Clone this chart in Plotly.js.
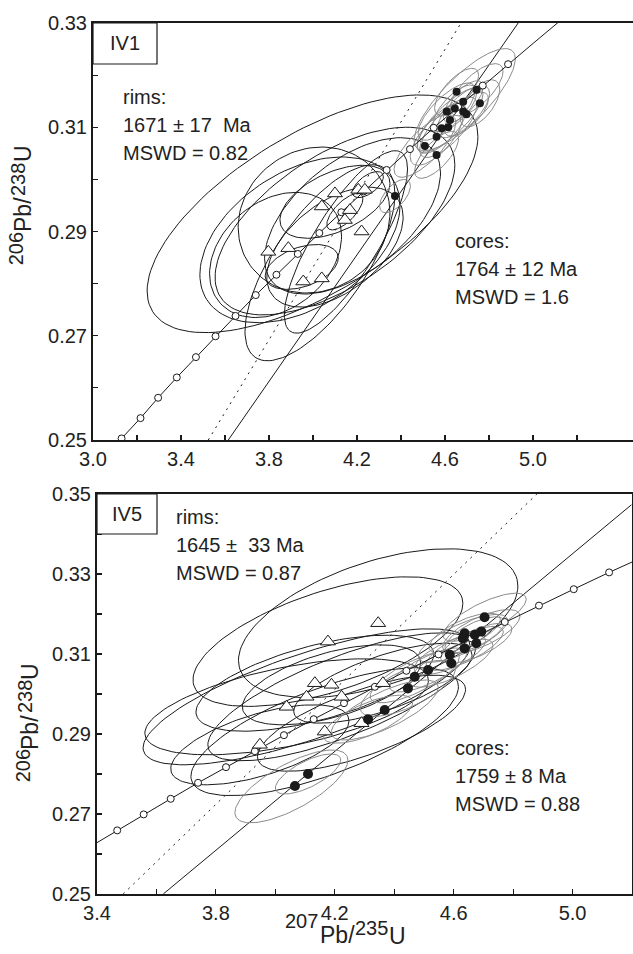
<!DOCTYPE html>
<html><head><meta charset="utf-8">
<script src="https://cdn.plot.ly/plotly-3.0.1.min.js"></script>
<style>html,body{margin:0;padding:0;background:#fff}</style>
</head><body><div id="chart" style="width:633px;height:954px"></div>
<script>
// ---------- Concordia curve (marker points, 20 Ma steps 1420-1860) ----------
const concX = [3.049,3.130,3.216,3.296,3.381,3.468,3.557,3.648,3.740,3.834,3.931,4.029,4.129,4.231,4.335,4.441,4.549,4.660,4.772,4.887,5.004,5.123,5.245];
const concY = [0.2464,0.2503,0.2542,0.2581,0.2620,0.2659,0.2699,0.2738,0.2778,0.2817,0.2857,0.2897,0.2937,0.2977,0.3018,0.3058,0.3099,0.3139,0.3180,0.3221,0.3262,0.3304,0.3345];
const iv1MarkerFirst = 1, iv1MarkerLast = 19;   // markers shown in IV1 panel

// ---------- IV1 ----------
const iv1SolidX = [3.615, 4.933], iv1SolidY = [0.25, 0.33];
const iv1DotX = [3.524, 4.673],  iv1DotY = [0.25, 0.33];
const iv1RimX = [3.797,3.888,3.956,4.040,4.040,4.100,4.145,4.168,4.221,4.206,4.236];
const iv1RimY = [0.2861,0.2868,0.2804,0.2810,0.2948,0.2973,0.2922,0.2941,0.2900,0.2980,0.2980];
const iv1CoreX = [4.653,4.744,4.683,4.759,4.608,4.645,4.683,4.698,4.623,4.585,4.615,4.562,4.509,4.562,4.373];
const iv1CoreY = [0.3168,0.3172,0.3149,0.3146,0.3130,0.3136,0.3130,0.3125,0.3114,0.3098,0.3100,0.3082,0.3064,0.3047,0.2968];
// rim error ellipses: centre, half-width x, half-height y, correlation
const iv1RimEllCx  = [3.998,3.941,4.032,4.005,3.949,4.145,4.250,4.100,4.100,4.180,3.830,4.100,4.150];
const iv1RimEllCy  = [0.2934,0.2884,0.2840,0.2922,0.2832,0.2938,0.2990,0.2957,0.2870,0.2930,0.2855,0.2920,0.2880];
const iv1RimEllSx  = [0.752,0.455,0.341,0.345,0.166,0.082,0.070,0.250,0.310,0.400,0.300,0.545,0.280];
const iv1RimEllSy  = [0.0228,0.0159,0.0188,0.0140,0.0043,0.0035,0.0025,0.0070,0.0115,0.0150,0.0120,0.0180,0.0175];
const iv1RimEllRho = [0.65,0.42,0.70,0.10,0.40,0.70,0.60,0.50,0.50,0.55,0.30,0.60,0.80];
// core error ellipses
const iv1CoreEllCx  = [4.653,4.744,4.683,4.759,4.608,4.645,4.683,4.698,4.623,4.585,4.615,4.562,4.509,4.562,4.373,4.690];
const iv1CoreEllCy  = [0.3168,0.3172,0.3149,0.3146,0.3130,0.3136,0.3130,0.3125,0.3114,0.3098,0.3100,0.3082,0.3064,0.3047,0.2968,0.3153];
const iv1CoreEllSx  = [0.10,0.12,0.09,0.09,0.13,0.10,0.12,0.10,0.15,0.11,0.13,0.12,0.14,0.10,0.07,0.23];
const iv1CoreEllSy  = [0.0045,0.0050,0.0040,0.0045,0.0055,0.0045,0.0050,0.0042,0.0062,0.0048,0.0058,0.0055,0.0060,0.0045,0.0032,0.0098];
const iv1CoreEllRho = [0.70,0.70,0.70,0.60,0.75,0.70,0.70,0.70,0.80,0.70,0.75,0.70,0.75,0.70,0.60,0.80];

// ---------- IV5 ----------
const iv5SolidX = [3.623, 5.198], iv5SolidY = [0.25, 0.3473];
const iv5DotX = [3.488, 4.880],  iv5DotY = [0.25, 0.35];
const iv5RimX = [4.346,4.177,4.133,4.189,4.105,4.223,4.038,4.362,4.166,4.290,3.948];
const iv5RimY = [0.3177,0.3131,0.3027,0.3023,0.2993,0.2993,0.2968,0.3027,0.2906,0.2927,0.2873];
const iv5CoreX = [4.704,4.637,4.693,4.671,4.631,4.676,4.637,4.587,4.592,4.514,4.469,4.446,4.368,4.312,4.110,4.066];
const iv5CoreY = [0.3192,0.3152,0.3156,0.3148,0.3139,0.3127,0.3114,0.3098,0.3077,0.3060,0.3043,0.3014,0.2960,0.2937,0.2800,0.2770];
const iv5RimEllCx  = [4.346,4.177,4.133,4.189,4.105,4.223,4.038,4.362,4.166,4.290,3.948];
const iv5RimEllCy  = [0.3177,0.3131,0.3027,0.3023,0.2993,0.2993,0.2968,0.3027,0.2906,0.2927,0.2873];
const iv5RimEllSx  = [0.470,0.454,0.400,0.300,0.550,0.450,0.477,0.300,0.450,0.350,0.300];
const iv5RimEllSy  = [0.0186,0.0162,0.0120,0.0100,0.0170,0.0160,0.0120,0.0100,0.0160,0.0120,0.0100];
const iv5RimEllRho = [0.50,0.59,0.60,0.55,0.75,0.75,0.55,0.70,0.70,0.70,0.60];
const iv5CoreEllCx  = [4.704,4.637,4.693,4.671,4.631,4.676,4.637,4.587,4.592,4.514,4.469,4.446,4.368,4.312,4.110,4.054];
const iv5CoreEllCy  = [0.3192,0.3152,0.3156,0.3148,0.3139,0.3127,0.3114,0.3098,0.3077,0.3060,0.3043,0.3014,0.2960,0.2937,0.2800,0.2769];
const iv5CoreEllSx  = [0.14,0.12,0.13,0.10,0.15,0.12,0.13,0.12,0.14,0.13,0.15,0.16,0.18,0.15,0.11,0.19];
const iv5CoreEllSy  = [0.0060,0.0050,0.0055,0.0045,0.0060,0.0050,0.0055,0.0050,0.0060,0.0055,0.0065,0.0070,0.0075,0.0060,0.0050,0.0091];
const iv5CoreEllRho = [0.75,0.70,0.70,0.70,0.75,0.70,0.75,0.70,0.75,0.75,0.75,0.70,0.75,0.70,0.70,0.72];

// ---------- helpers ----------
function ellipses(cx, cy, sx, sy, rho) {
  const xs = [], ys = [], n = 120;
  for (let k = 0; k < cx.length; k++) {
    const s = Math.sqrt(1 - rho[k] * rho[k]);
    for (let i = 0; i <= n; i++) {
      const t = 2 * Math.PI * i / n;
      xs.push(cx[k] + sx[k] * Math.cos(t));
      ys.push(cy[k] + sy[k] * (rho[k] * Math.cos(t) + s * Math.sin(t)));
    }
    xs.push(null); ys.push(null);
  }
  return {x: xs, y: ys};
}
const INK = '#1a1a1a', GREY = '#8a8a8a';
const FONT = 'Liberation Sans, Arial, Helvetica, sans-serif';

function panelTraces(xa, ya, conc, solid, dot, rimEll, coreEll, rims, cores, coreSize) {
  const r = ellipses(...rimEll), c = ellipses(...coreEll);
  return [
    {x: dot[0], y: dot[1], xaxis: xa, yaxis: ya, mode: 'lines', line: {color: INK, width: 1, dash: '2px,5px'}},
    {x: solid[0], y: solid[1], xaxis: xa, yaxis: ya, mode: 'lines', line: {color: INK, width: 1}},
    {x: r.x, y: r.y, xaxis: xa, yaxis: ya, mode: 'lines', line: {color: INK, width: 1}, connectgaps: false},
    {x: c.x, y: c.y, xaxis: xa, yaxis: ya, mode: 'lines', line: {color: GREY, width: 1}, connectgaps: false},
    {x: concX, y: concY, xaxis: xa, yaxis: ya, mode: 'lines', line: {color: INK, width: 1}},
    {x: conc[0], y: conc[1], xaxis: xa, yaxis: ya, mode: 'markers',
     marker: {symbol: 'circle', size: 7, color: '#fff', line: {color: INK, width: 1}}},
    {x: rims[0], y: rims[1], xaxis: xa, yaxis: ya, mode: 'markers',
     marker: {symbol: 'triangle-up', size: 13, color: '#fff', line: {color: INK, width: 1}}},
    {x: cores[0], y: cores[1], xaxis: xa, yaxis: ya, mode: 'markers',
     marker: {symbol: 'circle', size: coreSize, color: INK, line: {width: 0}}}
  ];
}

const data = [].concat(
  panelTraces('x', 'y',
    [concX.slice(iv1MarkerFirst, iv1MarkerLast + 1), concY.slice(iv1MarkerFirst, iv1MarkerLast + 1)],
    [iv1SolidX, iv1SolidY], [iv1DotX, iv1DotY],
    [iv1RimEllCx, iv1RimEllCy, iv1RimEllSx, iv1RimEllSy, iv1RimEllRho],
    [iv1CoreEllCx, iv1CoreEllCy, iv1CoreEllSx, iv1CoreEllSy, iv1CoreEllRho],
    [iv1RimX, iv1RimY], [iv1CoreX, iv1CoreY], 8),
  panelTraces('x2', 'y2', [concX, concY],
    [iv5SolidX, iv5SolidY], [iv5DotX, iv5DotY],
    [iv5RimEllCx, iv5RimEllCy, iv5RimEllSx, iv5RimEllSy, iv5RimEllRho],
    [iv5CoreEllCx, iv5CoreEllCy, iv5CoreEllSx, iv5CoreEllSy, iv5CoreEllRho],
    [iv5RimX, iv5RimY], [iv5CoreX, iv5CoreY], 10)
);

const W = 633, H = 954;
const px = v => v / W, py = v => 1 - v / H;

function axis(extra) {
  return Object.assign({
    showgrid: false, zeroline: false, showline: true, mirror: true,
    linecolor: INK, linewidth: 2, ticks: 'inside', ticklen: 5, tickwidth: 1.2, tickcolor: INK,
    tickfont: {family: FONT, size: 20, color: '#222'}, tickmode: 'array', fixedrange: true
  }, extra);
}
const xt1 = [3.0, 3.4, 3.8, 4.2, 4.6, 5.0];
const yt1 = [0.25, 0.27, 0.29, 0.31, 0.33];
const xt2 = [3.4, 3.8, 4.2, 4.6, 5.0];
const yt2 = [0.25, 0.27, 0.29, 0.31, 0.33, 0.35];

const minor = (vals) => ({tickmode: 'array', tickvals: vals, ticks: 'inside', ticklen: 5, tickwidth: 1.2, tickcolor: INK});

const layout = {
  width: W, height: H, margin: {l: 0, r: 0, t: 0, b: 0},
  paper_bgcolor: '#fff', plot_bgcolor: '#fff', showlegend: false,
  font: {family: FONT, color: '#222'},
  xaxis: axis({domain: [px(93), 1], range: [3.0, 5.455], anchor: 'y',
    tickvals: xt1, ticktext: xt1.map(v => v.toFixed(1)),
    minor: minor([3.2, 3.6, 4.0, 4.4, 4.8, 5.2])}),
  yaxis: axis({domain: [py(440), py(23)], range: [0.25, 0.33], anchor: 'x',
    tickvals: yt1, ticktext: yt1.map(v => v.toFixed(2)),
    minor: minor([0.26, 0.28, 0.30, 0.32])}),
  xaxis2: axis({domain: [px(97), px(632)], range: [3.4, 5.2], anchor: 'y2',
    tickvals: xt2, ticktext: xt2.map(v => v.toFixed(1)),
    minor: minor([3.6, 4.0, 4.4, 4.8])}),
  yaxis2: axis({domain: [py(894), py(494)], range: [0.25, 0.35], anchor: 'x2',
    tickvals: yt2, ticktext: yt2.map(v => v.toFixed(2)),
    minor: minor([0.26, 0.28, 0.30, 0.32, 0.34])}),
  shapes: [
    {type: 'rect', xref: 'paper', yref: 'paper', x0: px(93), x1: px(157), y0: py(64), y1: py(23), line: {color: INK, width: 1.2}, fillcolor: '#fff'},
    {type: 'rect', xref: 'paper', yref: 'paper', x0: px(97), x1: px(157), y0: py(534), y1: py(494), line: {color: INK, width: 1.2}, fillcolor: '#fff'}
  ],
  annotations: []
};

function txt(t, x, y, xa, extra) {
  layout.annotations.push(Object.assign({text: t, xref: 'paper', yref: 'paper', x: px(x), y: py(y),
    xanchor: xa || 'left', yanchor: 'middle', showarrow: false,
    font: {family: FONT, size: 20, color: '#222'}}, extra || {}));
}
txt('IV1', 125, 43, 'center');
txt('rims:', 121, 97);
txt('1671 ± 17\u00a0 Ma', 121, 125);
txt('MSWD = 0.82', 121, 153);
txt('cores:', 453, 241);
txt('1764 ± 12 Ma', 453, 269);
txt('MSWD = 1.6', 453, 297);
txt('IV5', 127, 514, 'center');
txt('rims:', 174, 517);
txt('1645 ±\u00a0 33 Ma', 174, 545);
txt('MSWD = 0.87', 174, 573);
txt('cores:', 453, 748);
txt('1759 ± 8 Ma', 453, 776);
txt('MSWD = 0.88', 453, 804);

// axis titles: isotope mass numbers raised, element symbols lowered
const f20 = {family: FONT, size: 20, color: '#222'}, f23 = {family: FONT, size: 23, color: '#222'};
txt('207', 283, 921, 'left', {font: f20});
txt('Pb/', 318, 935, 'left', {font: f23});
txt('235', 353, 928, 'left', {font: f20});
txt('U', 387, 936, 'left', {font: f23});

function ytitle(xDigits, xLetters, yCenter) {
  const start = yCenter + 61;
  txt('206', xDigits, start - 16.7, 'center', {font: f20, textangle: -90});
  txt('Pb/', xLetters, start - 51, 'center', {font: f23, textangle: -90});
  txt('238', xDigits + 2, start - 86, 'center', {font: f20, textangle: -90});
  txt('U', xLetters, start - 112, 'center', {font: f23, textangle: -90});
}
ytitle(16, 23, 205);
ytitle(23, 30, 722);

Plotly.newPlot('chart', data, layout, {displayModeBar: false, staticPlot: true});
</script>
</body></html>
